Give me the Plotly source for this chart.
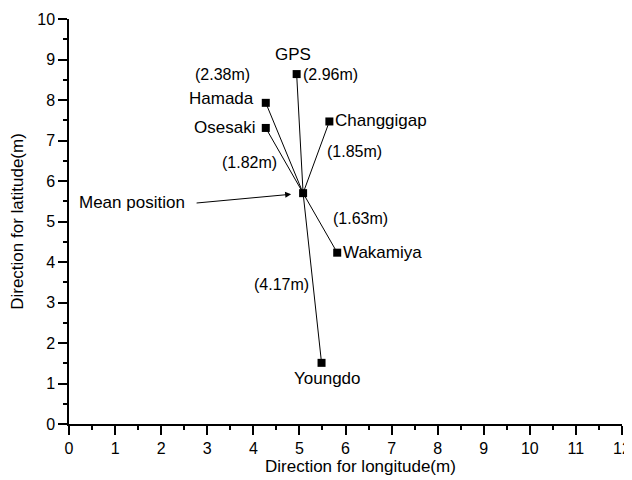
import plotly.graph_objects as go

# ---- data ----
stations = ["GPS", "Hamada", "Osesaki", "Changgigap", "Wakamiya", "Youngdo"]
lon = [4.94, 4.27, 4.27, 5.65, 5.82, 5.48]
lat = [8.64, 7.93, 7.31, 7.47, 4.23, 1.51]
dist_labels = ["(2.96m)", "(2.38m)", "(1.82m)", "(1.85m)", "(1.63m)", "(4.17m)"]
mean_lon = [5.08]
mean_lat = [5.70]
mean_label = "Mean position"
x_ticks = list(range(0, 13))
y_ticks = list(range(0, 11))

# ---- layout-only settings (pixel offsets of labels relative to their marker) ----
name_style = {
    "GPS":        dict(xanchor="center", xshift=-4,  yshift=20),
    "Hamada":     dict(xanchor="right",  xshift=-10, yshift=4),
    "Osesaki":    dict(xanchor="right",  xshift=-9,  yshift=0),
    "Changgigap": dict(xanchor="left",   xshift=4,   yshift=1),
    "Wakamiya":   dict(xanchor="left",   xshift=4,   yshift=0),
    "Youngdo":    dict(xanchor="center", xshift=6,   yshift=-16),
}
dist_style = {
    "GPS":        dict(xanchor="left",   xshift=4,   yshift=0),
    "Hamada":     dict(xanchor="center", xshift=-43, yshift=28),
    "Osesaki":    dict(xanchor="center", xshift=-16, yshift=-35),
    "Changgigap": dict(xanchor="center", xshift=25,  yshift=-30),
    "Wakamiya":   dict(xanchor="center", xshift=23,  yshift=34),
    "Youngdo":    dict(xanchor="center", xshift=-40, yshift=78),
}

FONT = "Liberation Sans, Arial, sans-serif"
NAME_SIZE = 17
DIST_SIZE = 16
TITLE_SIZE = 17
TICK_SIZE = 16

fig = go.Figure()

# spokes from the mean position to each station
seg_x, seg_y = [], []
for x, y in zip(lon, lat):
    seg_x += [mean_lon[0], x, None]
    seg_y += [mean_lat[0], y, None]
fig.add_trace(go.Scatter(x=seg_x, y=seg_y, mode="lines",
                         line=dict(color="black", width=1), hoverinfo="skip",
                         showlegend=False))

# station markers
fig.add_trace(go.Scatter(x=lon, y=lat, mode="markers", text=stations,
                         marker=dict(symbol="square", size=8, color="black"),
                         showlegend=False))
# mean marker
fig.add_trace(go.Scatter(x=mean_lon, y=mean_lat, mode="markers",
                         marker=dict(symbol="square", size=8, color="black"),
                         showlegend=False))

annotations = []
for name, x, y, d in zip(stations, lon, lat, dist_labels):
    annotations.append(dict(x=x, y=y, xref="x", yref="y", text=name,
                            showarrow=False, yanchor="middle",
                            font=dict(size=NAME_SIZE, color="black", family=FONT),
                            **name_style[name]))
    annotations.append(dict(x=x, y=y, xref="x", yref="y", text=d,
                            showarrow=False, yanchor="middle",
                            font=dict(size=DIST_SIZE, color="black", family=FONT),
                            **dist_style[name]))

# "Mean position" label with arrow
annotations.append(dict(x=mean_lon[0], y=mean_lat[0], xref="x", yref="y",
                        text=mean_label, showarrow=False, xanchor="center",
                        yanchor="middle", xshift=-171, yshift=-9,
                        font=dict(size=NAME_SIZE, color="black", family=FONT)))
annotations.append(dict(x=mean_lon[0], y=mean_lat[0], xref="x", yref="y",
                        text="", showarrow=True, arrowhead=2, arrowsize=1.2,
                        arrowwidth=1, arrowcolor="black",
                        ax=-108, ay=10, standoff=12))

# x-axis title (slightly right of centre, as in the reference)
annotations.append(dict(x=0.528, y=-0.106, xref="paper", yref="paper",
                        text="Direction for longitude(m)", showarrow=False,
                        xanchor="center", yanchor="middle",
                        font=dict(size=TITLE_SIZE, color="black", family=FONT)))

axis_common = dict(showgrid=False, zeroline=False, showline=True,
                   linecolor="black", linewidth=1.5, ticks="outside",
                   ticklen=9, tickwidth=1.5, tickcolor="black",
                   tickfont=dict(size=TICK_SIZE, color="black", family=FONT),
                   minor=dict(ticks="outside", ticklen=4, tickwidth=1.5,
                              tickcolor="black", dtick=0.5))

# the page body adds an 8px offset, so the figure is 8px smaller than the window
fig.update_layout(
    width=624, height=472,
    margin=dict(l=61, r=10, t=11, b=56),
    paper_bgcolor="white", plot_bgcolor="white",
    font=dict(family=FONT, color="black"),
    xaxis=dict(range=[0, 12], tickvals=x_ticks, automargin=False, **axis_common),
    yaxis=dict(range=[0, 10], tickvals=y_ticks, automargin=False,
               title=dict(text="Direction for latitude(m)", standoff=10,
                          font=dict(size=TITLE_SIZE, color="black", family=FONT)),
               **axis_common),
    annotations=annotations,
)

fig.write_html("out.html")
